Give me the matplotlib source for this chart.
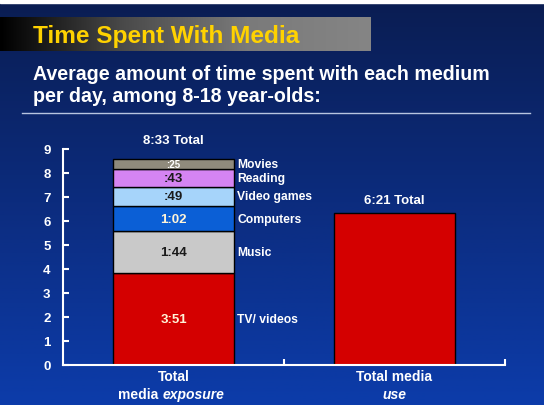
#!/usr/bin/env python3
"""
Time Spent With Media - slajd z wykresem słupkowym
"""

import matplotlib.pyplot as plt
import numpy as np
from matplotlib.colors import LinearSegmentedColormap

# Dane: czas w godzinach (h:mm przeliczone)
segments = ['TV/ videos', 'Music', 'Computers', 'Video games', 'Reading', 'Movies']
seg_hours = [3 + 51/60, 1 + 44/60, 1 + 2/60, 49/60, 43/60, 25/60]
seg_labels = ['3:51', '1:44', '1:02', ':49', ':43', ':25']
seg_colors = ['#d40000', '#c9c9c9', '#0b5fd6', '#a6d4fa', '#d584f2', '#8f8a7c']
seg_text_colors = ['#fff4d8', '#1a1a1a', '#fff4d8', '#1a1a1a', '#1a1a1a', '#ffffff']

use_hours = 6 + 21/60
total_labels = ['8:33 Total', '6:21 Total']
y_ticks = list(range(0, 10))

plt.rcParams['font.family'] = ['Liberation Sans', 'DejaVu Sans']
plt.rcParams['font.weight'] = 'bold'

fig = plt.figure(figsize=(5.44, 4.06), dpi=100)

# Tło slajdu - gradient pionowy
bg = fig.add_axes([0, 0, 1, 1])
cmap = LinearSegmentedColormap.from_list('bg', ['#0a1d52', '#0c2c7e', '#0c3caa'])
grad = np.linspace(0, 1, 256).reshape(-1, 1)
bg.imshow(grad, aspect='auto', cmap=cmap, extent=[0, 1, 0, 1], origin='upper')

# biały pasek u góry (skan)
bg.add_patch(plt.Rectangle((0, 1 - 4/406), 1, 4/406, color='white', zorder=3))

# pasek tytułu - gradient od czarnego do szarego
bar_cmap = LinearSegmentedColormap.from_list('tb', ['#000000', '#4a4a4a', '#7a7a7a', '#858585'])
hgrad = np.linspace(0, 1, 256).reshape(1, -1)
bg.imshow(hgrad, aspect='auto', cmap=bar_cmap,
          extent=[0, 371/544, 1 - 52/406, 1 - 18/406], zorder=2)
bg.set_xlim(0, 1)
bg.set_ylim(0, 1)
bg.axis('off')

bg.text(33/544, 1 - 36/406, 'Time Spent With Media', color='#ffd200',
        fontsize=17.6, fontweight='bold', va='center', ha='left', zorder=4)
bg.text(33/544, 1 - 75/406, 'Average amount of time spent with each medium',
        color='white', fontsize=14.1, fontweight='bold', va='center', ha='left')
bg.text(33/544, 1 - 97/406, 'per day, among 8-18 year-olds:',
        color='white', fontsize=14.1, fontweight='bold', va='center', ha='left')
bg.plot([22/544, 530/544], [1 - 114/406, 1 - 114/406], color='#b8c4e0', lw=1)

# Wykres
ax = fig.add_axes([63/544, 40/406, 442/544, 216/406])
ax.patch.set_alpha(0)

width = 0.55
bottom = 0
for h, lab, col, tcol, name in zip(seg_hours, seg_labels, seg_colors,
                                  seg_text_colors, segments):
    ax.bar(0, h, width, bottom=bottom, color=col, edgecolor='black', linewidth=1)
    mid = bottom + h / 2
    fs = 7 if lab == ':25' else 9.5
    ax.text(0, mid, lab, color=tcol, fontsize=fs, fontweight='bold',
            ha='center', va='center')
    ax.annotate(name, (width / 2, mid), xytext=(2, 0), textcoords='offset points',
                color='white', fontsize=8.7, fontweight='bold', ha='left', va='center')
    bottom += h

ax.bar(1, use_hours, width, color='#d40000', edgecolor='black', linewidth=1)

ax.annotate(total_labels[0], (0, bottom), xytext=(0, 10), textcoords='offset points',
            color='white', fontsize=9.5, fontweight='bold', ha='center', va='bottom')
ax.annotate(total_labels[1], (1, use_hours), xytext=(0, 5), textcoords='offset points',
            color='white', fontsize=9.5, fontweight='bold', ha='center', va='bottom')

ax.set_xlim(-0.5, 1.5)
ax.set_ylim(0, 9)
ax.set_yticks(y_ticks)
ax.set_xticks([0.5, 1.5])
ax.set_xticklabels([])
ax.tick_params(axis='y', colors='white', direction='in', length=4, width=1.5,
               pad=9, labelsize=9.5)
ax.tick_params(axis='x', colors='white', direction='in', length=4, width=1.5)
for lbl in ax.get_yticklabels():
    lbl.set_fontweight('bold')
for s in ['top', 'right']:
    ax.spines[s].set_visible(False)
for s in ['left', 'bottom']:
    ax.spines[s].set_color('white')
    ax.spines[s].set_linewidth(1.5)

# Etykiety kategorii (z kursywą)
kw = dict(color='white', fontsize=10, fontweight='bold', xycoords=('data', 'axes fraction'),
          textcoords='offset points', va='center')
ax.annotate('Total', (0, 0), xytext=(0, -8), ha='center', **kw)
ax.annotate('media ', (0, 0), xytext=(-8, -21), ha='right', **kw)
ax.annotate('exposure', (0, 0), xytext=(-8, -21), ha='left', fontstyle='italic', **kw)
ax.annotate('Total media', (1, 0), xytext=(0, -8), ha='center', **kw)
ax.annotate('use', (1, 0), xytext=(0, -21), ha='center', fontstyle='italic', **kw)

plt.savefig('out.png', dpi=100)
